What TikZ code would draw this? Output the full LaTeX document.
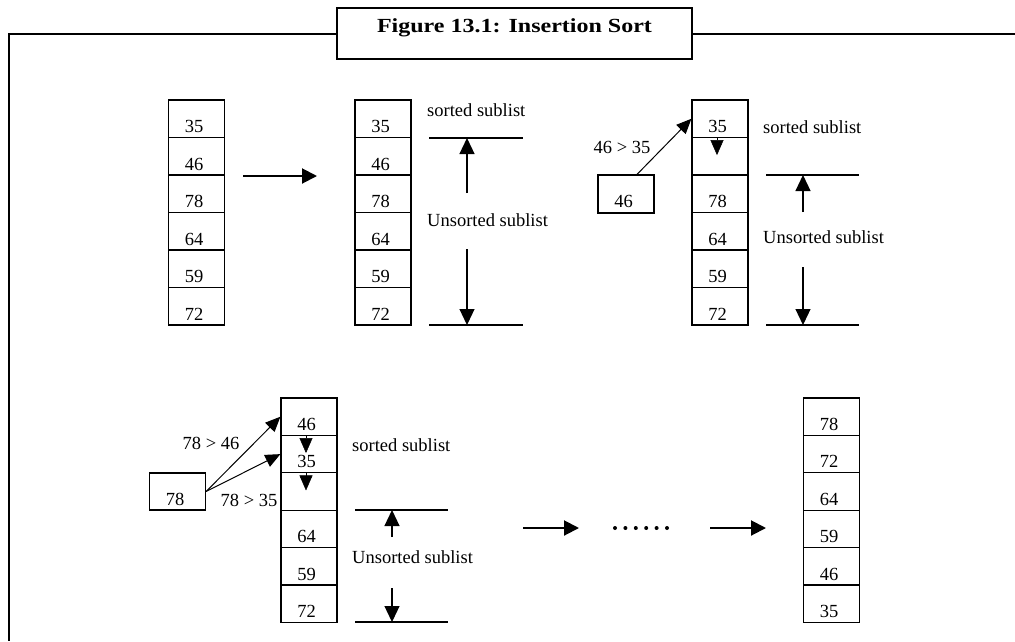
\documentclass[tikz,border=0pt]{standalone}
\usepackage{fontspec}
\setmainfont{Liberation Serif}
\newfontfamily\titlefont{Liberation Serif}[FakeStretch=1.2]
\usetikzlibrary{arrows.meta,calc}
\begin{document}
\begin{tikzpicture}[x=1pt,y=-1pt,
  cell/.style={draw, line width=1.2pt, minimum width=56pt, minimum height=37.5pt, inner sep=0pt, text height=28pt, text depth=0.5pt, font=\fontsize{18.5}{20}\selectfont, execute at end node=\hspace{5pt}},
  lbl/.style={inner sep=0pt, font=\fontsize{18.5}{20}\selectfont},
  bigarrow/.style={line width=2pt, -{Triangle[length=15pt,width=15pt]}},
  subarrow/.style={line width=1.2pt, -{Triangle[length=16pt,width=15pt]}},
  cmparrow/.style={line width=1pt, -{Triangle[length=15pt,width=13pt]}},
  movetip/.style={line width=0.5pt, -{Triangle[length=15pt,width=13pt]}},
  sublistbar/.style={line width=2pt},
  frameline/.style={line width=2pt},
]
\useasboundingbox (0,0) rectangle (1015,641);

% title and frame
\node[draw, line width=2pt, minimum width=355pt, minimum height=51pt, inner sep=0pt,
      text height=9pt, text depth=11pt, font=\titlefont\bfseries\fontsize{20}{22}\selectfont]
      (title) at (514.5,33.5) {Figure 13.1: Insertion Sort};
\coordinate (fl) at (9,33.5);
\coordinate (fb) at (9,641);
\coordinate (fr) at (1015,33.5);
\draw[frameline] (title.west) -- (fl) -- (fb);
\draw[frameline] (title.east) -- (fr);

% column a
\foreach \v [count=\i] in {35,46,78,64,59,72}
  \node[cell] (a\i) at (196.5,100+37.5*\i-18.75) {\v};
% column b
\foreach \v [count=\i] in {35,46,78,64,59,72}
  \node[cell] (b\i) at (383,100+37.5*\i-18.75) {\v};
% column c
\foreach \v [count=\i] in {35,{},78,64,59,72}
  \node[cell] (c\i) at (720,100+37.5*\i-18.75) {\v};
% column d
\foreach \v [count=\i] in {46,35,{},64,59,72}
  \node[cell] (d\i) at (309,398+37.4*\i-18.7) {\v};
% column e
\foreach \v [count=\i] in {78,72,64,59,46,35}
  \node[cell] (e\i) at (831.5,398+37.4*\i-18.7) {\v};

% step arrows
\coordinate (h1s) at (243,176);
\coordinate (h1e) at (317,176);
\draw[bigarrow] (h1s) -- (h1e);
\coordinate (h2s) at (523,528);
\coordinate (h2e) at (579,528);
\draw[bigarrow] (h2s) -- (h2e);
\coordinate (h3s) at (710,528);
\coordinate (h3e) at (766,528);
\draw[bigarrow] (h3s) -- (h3e);
\draw[line width=4pt, line cap=round, dash pattern=on 0pt off 10.4pt] (615,528) -- (667.2,528);

% panel b sublists
\node[lbl, anchor=west] (bs) at (427,110) {sorted sublist};
\node[lbl, anchor=west] (bu) at (427,220) {Unsorted sublist};
\draw[sublistbar] (429,138) -- (523,138);
\draw[sublistbar] (429,325) -- (523,325);
\coordinate (bua) at (467,193); \coordinate (but) at (467,138);
\coordinate (bda) at (467,249); \coordinate (bdt) at (467,325);
\draw[subarrow] (bua) -- (but);
\draw[subarrow] (bda) -- (bdt);

% panel c
\node[cell, minimum height=38pt] (p) at (626,194) {46};
\node[lbl] (pl) at (622,147) {46 > 35};
\draw[cmparrow] ($(p.north)+(11,0)$) -- (c1.west);
\draw[movetip] ($(c1.south)+(-3,0)$) -- ++(0,17);
\node[lbl, anchor=west] (cs) at (763,127) {sorted sublist};
\node[lbl, anchor=west] (cu) at (763,237) {Unsorted sublist};
\draw[sublistbar] (766,175) -- (859,175);
\draw[sublistbar] (766,325) -- (859,325);
\coordinate (cua) at (803,212); \coordinate (cut) at (803,175);
\coordinate (cda) at (803,267); \coordinate (cdt) at (803,325);
\draw[subarrow] (cua) -- (cut);
\draw[subarrow] (cda) -- (cdt);

% panel d
\node[cell, minimum height=37pt] (q) at (177.5,491.5) {78};
\node[lbl] (ql1) at (211,443) {78 > 46};
\node[lbl] (ql2) at (249,500) {78 > 35};
\draw[cmparrow] (q.east) -- (d1.west);
\draw[cmparrow] (q.east) -- (d2.west);
\draw[movetip] ($(d1.south)+(-3,0)$) -- ++(0,17);
\draw[movetip] ($(d2.south)+(-3,0)$) -- ++(0,17);
\node[lbl, anchor=west] (ds) at (352,445) {sorted sublist};
\node[lbl, anchor=west] (du) at (352,557) {Unsorted sublist};
\draw[sublistbar] (355,510) -- (448,510);
\draw[sublistbar] (355,622) -- (448,622);
\coordinate (dua) at (392,537); \coordinate (dut) at (392,510);
\coordinate (dda) at (392,588); \coordinate (ddt) at (392,622);
\draw[subarrow] (dua) -- (dut);
\draw[subarrow] (dda) -- (ddt);
\end{tikzpicture}
\end{document}
